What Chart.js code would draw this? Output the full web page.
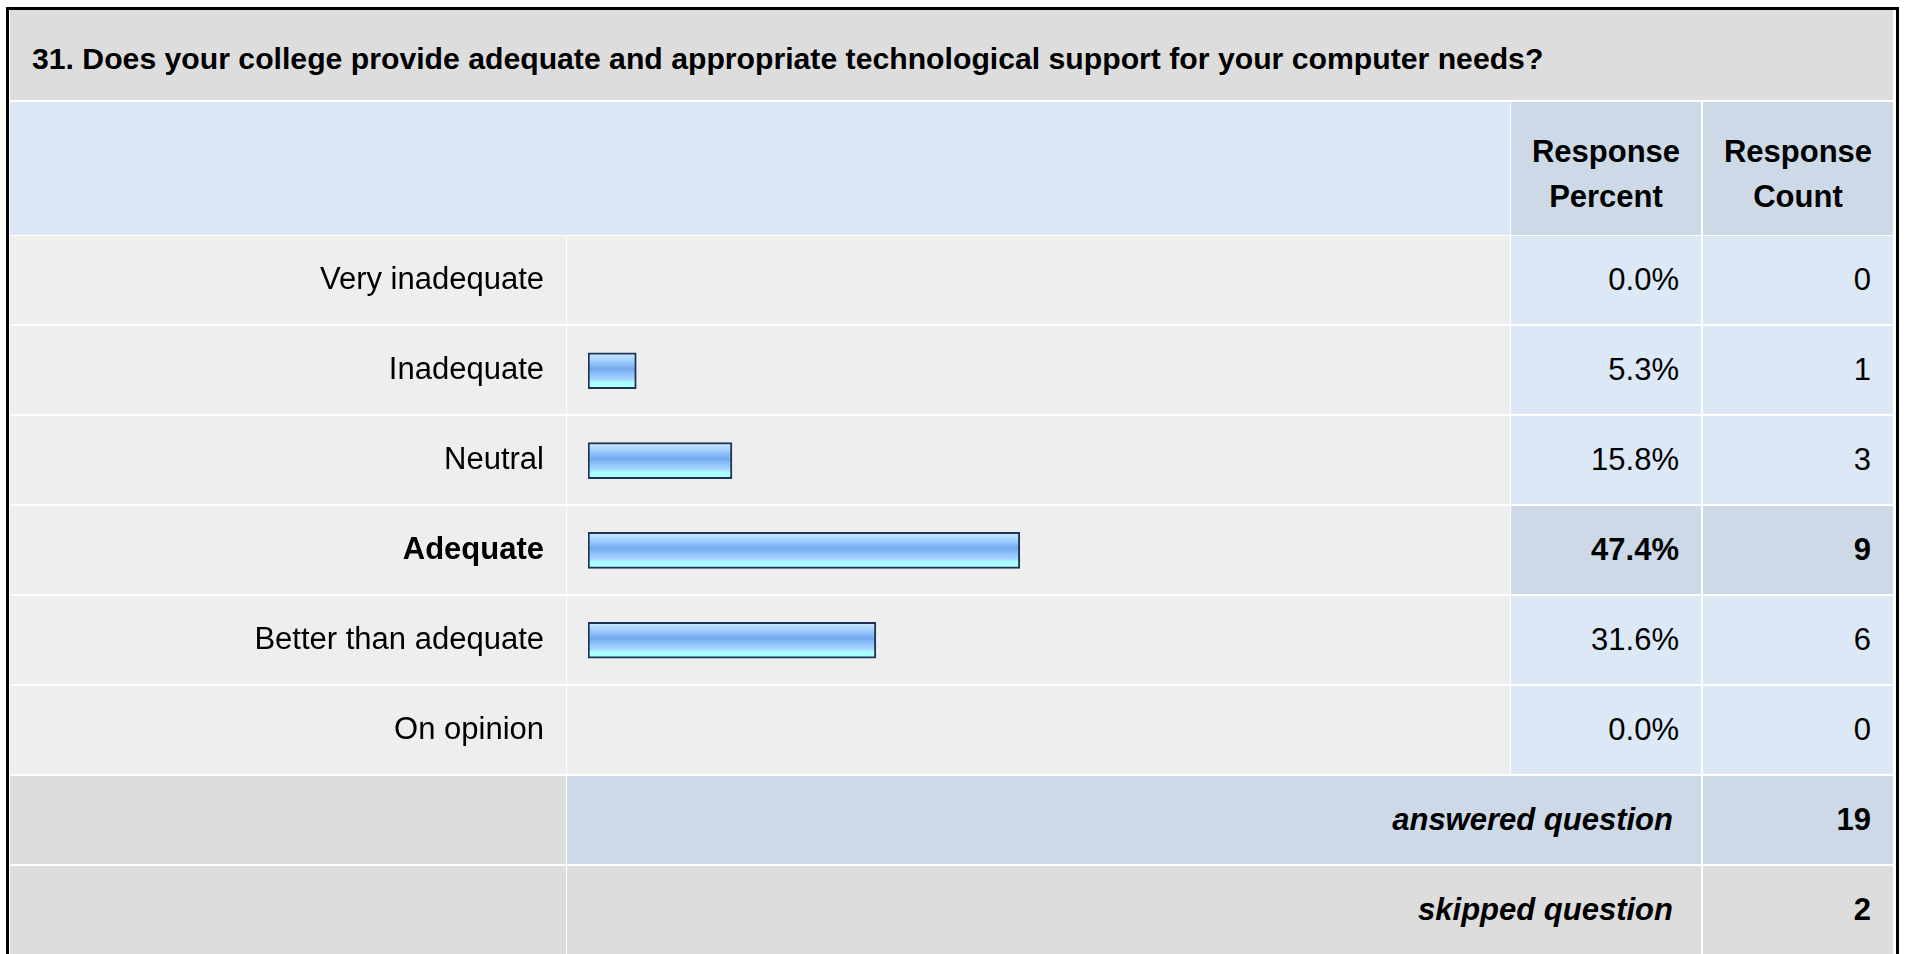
<!DOCTYPE html>
<html>
<head>
<meta charset="utf-8">
<script src="https://cdn.jsdelivr.net/npm/chart.js@4"></script>
<style>
  html, body { margin: 0; padding: 0; background: #fff; }
  body { width: 1907px; height: 954px; overflow: hidden; position: relative;
         font-family: "Liberation Sans", Arial, sans-serif; color: #000; }
  #frame { position: absolute; left: 6px; top: 7px; width: 1887px; height: 960px;
           border: 3px solid #000; background: #fff; }
  .cell { position: absolute; box-sizing: border-box; display: flex; align-items: center;
          font-size: 31px; }
  .r { justify-content: flex-end; padding-right: 22px; }
  .c { justify-content: center; text-align: center; line-height: 45px; font-weight: bold; padding-top: 10px; }
  .b { font-weight: bold; }
  .bi { font-weight: bold; font-style: italic; padding-right: 28px; }
  .low { padding-bottom: 12px; }
  #bars { position: absolute; left: 10px; top: 236px; display: block; }
</style>
</head>
<body>
<div id="frame"></div>
<div id="cells"></div>
<canvas id="bars" width="1500" height="539"></canvas>
<script>
// --- data ---
const question = '31. Does your college provide adequate and appropriate technological support for your computer needs?'
const answers = ['Very inadequate', 'Inadequate', 'Neutral', 'Adequate', 'Better than adequate', 'On opinion']
const percents = [0.0, 5.3, 15.8, 47.4, 31.6, 0.0]
const counts = [0, 1, 3, 9, 6, 0]
const answered = 19
const skipped = 2
const topIndex = 3   // highlighted (most chosen) answer

const cells = document.querySelector('#cells')

function addCell(x, y, w, h, bg, html, cls) {
  const d = document.createElement('div')
  d.className = 'cell ' + (cls || '')
  d.style.left = x + 'px'
  d.style.top = y + 'px'
  d.style.width = w + 'px'
  d.style.height = h + 'px'
  d.style.background = bg
  d.innerHTML = html || ''
  cells.appendChild(d)
  return d
}

// column edges [x, width]
const colLabel = [10, 556]
const colBar = [567, 943]
const colPct = [1511, 190]
const colCnt = [1703, 190]

// title + header
let t = addCell(10, 10, 1883, 90, '#dddddd', question, 'b')
t.style.paddingLeft = '22px'
t.style.paddingTop = '7px'
t.style.fontSize = '30.2px'
addCell(10, 102, 1500, 133, '#dce8f5')
addCell(colPct[0], 102, colPct[1], 133, '#cdd9e6', 'Response<br>Percent', 'c')
addCell(colCnt[0], 102, colCnt[1], 133, '#cdd9e6', 'Response<br>Count', 'c')

// answer rows (labels are drawn by the chart's y axis)
answers.forEach((a, i) => {
  const y = 236 + i * 90
  const hi = i === topIndex
  addCell(colLabel[0], y, colLabel[1], 88, '#eeeeee')
  addCell(colBar[0], y, colBar[1], 88, '#eeeeee')
  addCell(colPct[0], y, colPct[1], 88, hi ? '#cdd9e6' : '#dce8f5', percents[i].toFixed(1) + '%', 'r' + (hi ? ' b' : ''))
  addCell(colCnt[0], y, colCnt[1], 88, hi ? '#cdd9e6' : '#dce8f5', String(counts[i]), 'r' + (hi ? ' b' : ''))
})

// summary rows
addCell(colLabel[0], 776, colLabel[1], 88, '#dddddd')
addCell(colBar[0], 776, 1134, 88, '#cdd9e6', 'answered question', 'r bi')
addCell(colCnt[0], 776, colCnt[1], 88, '#cdd9e6', String(answered), 'r b')
addCell(colLabel[0], 866, colLabel[1], 100, '#dddddd')
addCell(colBar[0], 866, 1134, 100, '#dddddd', 'skipped question', 'r bi low')
addCell(colCnt[0], 866, colCnt[1], 100, '#dddddd', String(skipped), 'r b low')

// bar gradient, one per bar, built from the bar's own position
function barFill(ctx) {
  const chart = ctx.chart
  if (!chart.chartArea || ctx.type !== 'data') return '#99ccff'
  const yc = chart.scales.y.getPixelForValue(ctx.dataIndex)
  const h = 36
  const g = chart.ctx.createLinearGradient(0, yc - h / 2, 0, yc + h / 2)
  g.addColorStop(0, '#d2ebff')
  g.addColorStop(0.2, '#a6d2ff')
  g.addColorStop(0.45, '#74aaf0')
  g.addColorStop(0.6, '#8fc3fb')
  g.addColorStop(0.75, '#a8d6ff')
  g.addColorStop(0.82, '#aaffff')
  g.addColorStop(1, '#aaffff')
  return g
}

const barChart = new Chart(document.querySelector('#bars'), {
  type: 'bar',
  data: {
    labels: answers,
    datasets: [{
      data: percents,
      backgroundColor: barFill,
      borderColor: '#1c3557',
      borderWidth: 2,
      borderSkipped: false,
      barThickness: 36,
    }]
  },
  options: {
    indexAxis: 'y',
    responsive: false,
    animation: false,
    layout: { padding: { left: 0, right: 11, top: 0, bottom: 0 } },
    plugins: { legend: { display: false }, tooltip: { enabled: false } },
    scales: {
      x: { display: false, min: 0, max: 100 },
      y: {
        grid: { display: false, drawTicks: false },
        border: { display: false },
        afterFit: (axis) => {
          // fixed label column, and each answer gets a full 90px row
          axis.width = 578
          axis.paddingTop = 0
          axis.paddingBottom = 0
        },
        ticks: {
          padding: 44,
          color: '#000',
          font: (c) => ({
            family: '"Liberation Sans", Arial, sans-serif',
            size: 31,
            weight: c.index === topIndex ? 'bold' : 'normal'
          })
        }
      }
    }
  }
})
</script>
</body>
</html>
